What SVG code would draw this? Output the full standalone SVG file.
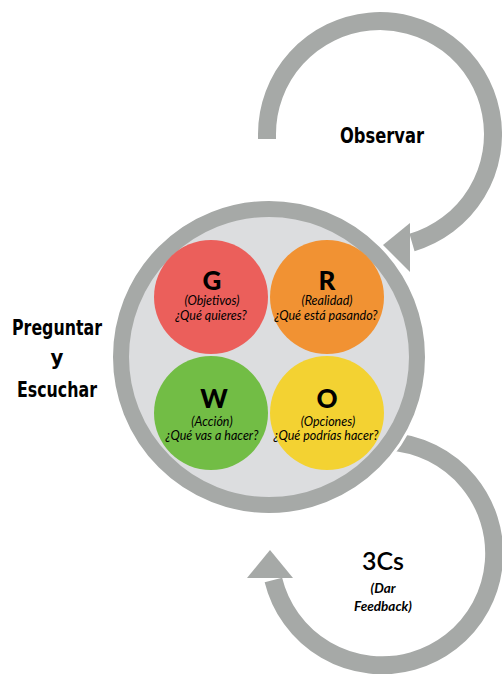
<svg xmlns="http://www.w3.org/2000/svg" width="502" height="674" viewBox="0 0 502 674">
<style>
.loop{fill:none;stroke:#a6a9a7;stroke-width:18}
.head{fill:#a6a9a7}
.lbl{font-family:"DejaVu Sans Condensed","DejaVu Sans",sans-serif;font-stretch:condensed;font-weight:bold;font-size:22px;fill:#000;text-anchor:middle}
.let{font-family:Lato,"Open Sans",sans-serif;font-weight:900;font-size:26px;fill:#000;text-anchor:middle}
.sub{font-family:Lato,"Open Sans",sans-serif;font-style:italic;font-size:12.5px;fill:#000;text-anchor:middle}
.fb{font-family:Lato,"Open Sans",sans-serif;font-weight:bold;font-style:italic;font-size:13.5px;fill:#000;text-anchor:middle}
</style>
<rect width="502" height="674" fill="#fff"/>
<g id="connectors">
  <path class="loop" d="M267,139 L267,134 A113,113 0 1 1 412,242.5"/>
  <polygon class="head" points="410,223 410,272 383,245"/>
  <path class="loop" d="M344.7,447.8 A112,112 0 1 1 273.4,580"/>
  <polygon class="head" points="247,578 293,578 270,550"/>
</g>
<g id="grow">
  <circle cx="269" cy="357" r="159" fill="#fff"/>
  <circle cx="269" cy="357" r="148" fill="#dcdddf" stroke="#a6a9a7" stroke-width="16"/>
</g>
<g id="g">
  <circle cx="211" cy="297" r="57" fill="#eb5f5b"/>
  <text class="let" x="212" y="290">G</text>
  <text class="sub" x="212" y="305">(Objetivos)</text>
  <text class="sub" x="211" y="320">¿Qué quieres?</text>
</g>
<g id="r">
  <circle cx="327" cy="297" r="57" fill="#f19233"/>
  <text class="let" x="327" y="290">R</text>
  <text class="sub" x="327" y="305">(Realidad)</text>
  <text class="sub" x="326" y="320">¿Qué está pasando?</text>
</g>
<g id="w">
  <circle cx="211" cy="413" r="57" fill="#72bd45"/>
  <text class="let" x="214" y="408">W</text>
  <text class="sub" x="212" y="426">(Acción)</text>
  <text class="sub" x="212" y="440">¿Qué vas a hacer?</text>
</g>
<g id="o">
  <circle cx="327" cy="413" r="57" fill="#f3d232"/>
  <text class="let" x="327" y="408">O</text>
  <text class="sub" x="328" y="426">(Opciones)</text>
  <text class="sub" x="326" y="440">¿Qué podrías hacer?</text>
</g>
<g id="observar">
  <text class="lbl" x="382" y="143" textLength="84" lengthAdjust="spacingAndGlyphs">Observar</text>
</g>
<g id="preguntar">
  <text class="lbl" x="57" y="335" textLength="90" lengthAdjust="spacingAndGlyphs">Preguntar</text>
  <text class="lbl" x="57" y="365">y</text>
  <text class="lbl" x="57" y="397" textLength="80" lengthAdjust="spacingAndGlyphs">Escuchar</text>
</g>
<g id="feedback">
  <text x="383" y="570" font-family="Lato,'Open Sans',sans-serif" font-weight="600" font-size="25" text-anchor="middle">3Cs</text>
  <text class="fb" x="383" y="593">(Dar</text>
  <text class="fb" x="383" y="611">Feedback)</text>
</g>
</svg>
